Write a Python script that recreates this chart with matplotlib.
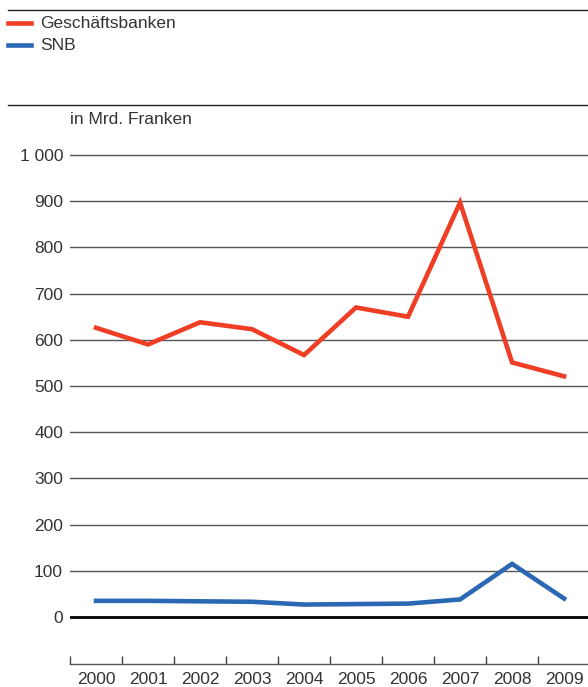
import numpy as np
import matplotlib.pyplot as plt
from matplotlib.lines import Line2D

years = ['2000', '2001', '2002', '2003', '2004', '2005', '2006', '2007', '2008', '2009']
geschaeftsbanken = [626, 590, 638, 623, 567, 670, 650, 897, 551, 521]
snb = [35, 35, 34, 33, 27, 28, 29, 38, 115, 40]
y_ticks = [0, 100, 200, 300, 400, 500, 600, 700, 800, 900, 1000]

RED = '#f03e25'
BLUE = '#2b68b3'
TEXT = '#333333'
FS = 12.5

plt.rcParams['font.family'] = ['Liberation Sans', 'DejaVu Sans']

W, H = 588, 687
fig = plt.figure(figsize=(W / 100, H / 100), dpi=100)

ax_left, ax_bottom = 70 / W, 1 - 664 / H
ax_top = 1 - 150.4 / H
ax = fig.add_axes([ax_left, ax_bottom, 1 - ax_left, ax_top - ax_bottom])

x = np.arange(len(years))
ax.plot(x, geschaeftsbanken, color=RED, lw=3.3, solid_joinstyle='miter', zorder=3)
ax.plot(x, snb, color=BLUE, lw=3.3, solid_joinstyle='miter', zorder=3)

ax.set_xlim(-0.5, 9.46)
ax.set_ylim(-101.7, 1010)

# horizontal grid
for v in y_ticks:
    if v == 0:
        ax.axhline(v, color='black', lw=2.0, zorder=2)
    else:
        ax.axhline(v, color='#555555', lw=1.0, zorder=1)

ax.set_yticks(y_ticks)
ax.set_yticklabels([f'{v:,}'.replace(',', ' ') for v in y_ticks])
ax.tick_params(axis='y', length=0, pad=5, labelsize=FS, labelcolor=TEXT)

ax.set_xticks(x)
ax.set_xticklabels(years)
ax.set_xticks(np.arange(-0.5, 9, 1), minor=True)
ax.tick_params(axis='x', which='major', length=0, pad=5.5, labelsize=FS, labelcolor=TEXT)
ax.tick_params(axis='x', which='minor', direction='in', length=5.8, width=1, color='#444444')

for s in ['top', 'right', 'left']:
    ax.spines[s].set_visible(False)
ax.spines['bottom'].set_color('#555555')
ax.spines['bottom'].set_linewidth(1)

# header rules and legend
fig.add_artist(Line2D([8 / W, 1], [1 - 9.5 / H] * 2, color='#222222', lw=1))
fig.add_artist(Line2D([8 / W, 1], [1 - 105 / H] * 2, color='#222222', lw=1))

for label, color, yp in [('Geschäftsbanken', RED, 23), ('SNB', BLUE, 45)]:
    fig.add_artist(Line2D([8 / W, 31 / W], [1 - yp / H] * 2, color=color, lw=3.3))
    fig.text(40 / W, 1 - yp / H, label, fontsize=FS, color=TEXT, va='center', ha='left')

fig.text(70 / W, 1 - 120 / H, 'in Mrd. Franken', fontsize=FS, color=TEXT, va='center', ha='left')

fig.savefig('out.png', dpi=100)
